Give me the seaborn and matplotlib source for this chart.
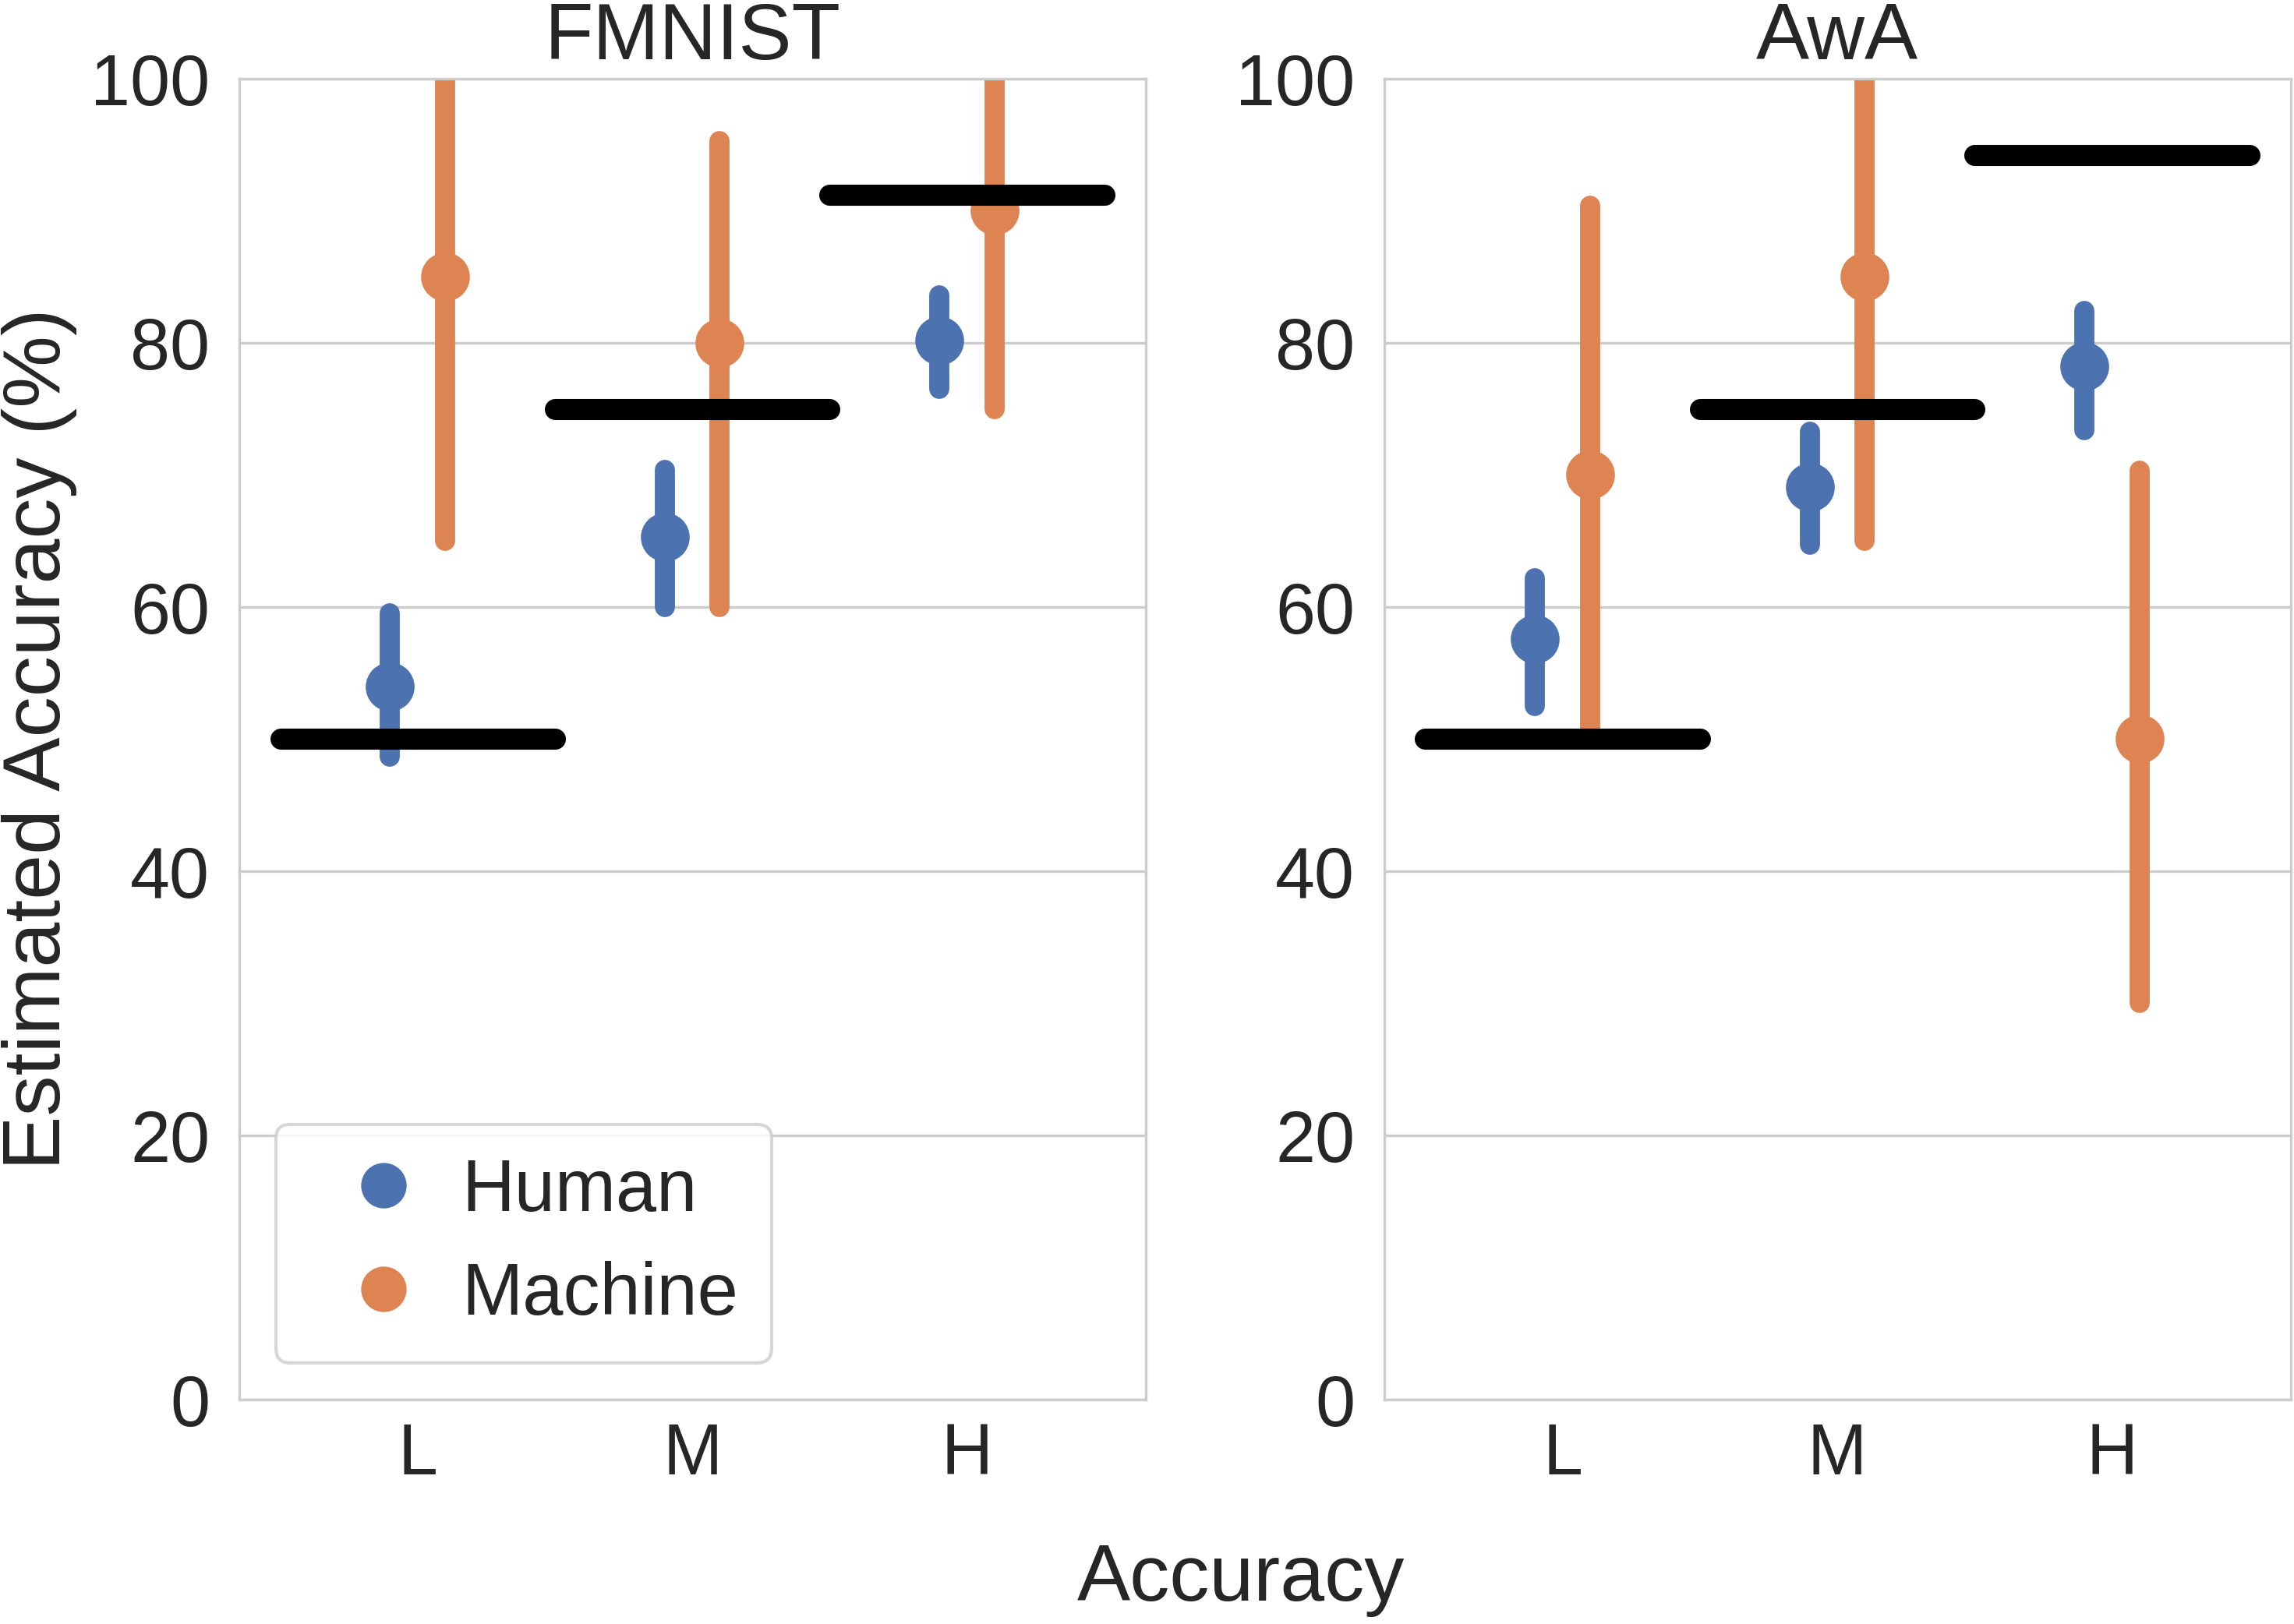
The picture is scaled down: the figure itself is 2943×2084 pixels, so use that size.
import numpy as np
import pandas as pd
import matplotlib
matplotlib.use("Agg")
import matplotlib.pyplot as plt
import seaborn as sns
from matplotlib.lines import Line2D

# ---------------- data ----------------
datasets = ["FMNIST", "AwA"]
levels = ["L", "M", "H"]
groups = ["Human", "Machine"]

fmnist_human_mean = [54.0, 65.3, 80.2]
fmnist_human_lo = [48.7, 60.0, 76.5]
fmnist_human_hi = [59.5, 70.4, 83.6]
fmnist_machine_mean = [85.0, 80.0, 90.0]
fmnist_machine_lo = [65.0, 60.0, 75.0]
fmnist_machine_hi = [105.0, 95.3, 105.0]

awa_human_mean = [57.6, 69.1, 78.2]
awa_human_lo = [52.5, 64.7, 73.4]
awa_human_hi = [62.2, 73.3, 82.4]
awa_machine_mean = [70.0, 85.0, 50.0]
awa_machine_lo = [50.0, 65.0, 30.0]
awa_machine_hi = [90.4, 105.0, 70.3]

fmnist_true = [50.0, 75.0, 91.2]
awa_true = [50.0, 75.0, 94.2]

summary = {
    "FMNIST": {
        "Human": (fmnist_human_lo, fmnist_human_mean, fmnist_human_hi),
        "Machine": (fmnist_machine_lo, fmnist_machine_mean, fmnist_machine_hi),
    },
    "AwA": {
        "Human": (awa_human_lo, awa_human_mean, awa_human_hi),
        "Machine": (awa_machine_lo, awa_machine_mean, awa_machine_hi),
    },
}
true_acc = {"FMNIST": fmnist_true, "AwA": awa_true}

rows = []
for ds in datasets:
    for g in groups:
        lo, mid, hi = summary[ds][g]
        for i, lev in enumerate(levels):
            for v in (lo[i], mid[i], hi[i]):
                rows.append({"dataset": ds, "group": g, "level": lev, "value": v})
df = pd.DataFrame(rows)

# ---------------- style ----------------
sns.set_theme(style="whitegrid")
plt.rcParams["font.family"] = ["Liberation Sans", "DejaVu Sans"]
plt.rcParams.update({
    "axes.edgecolor": ".8",
    "grid.color": ".8",
    "axes.linewidth": 0.8,
    "grid.linewidth": 0.8,
    "xtick.labelsize": 22,
    "ytick.labelsize": 22,
    "xtick.major.pad": 7,
    "ytick.major.pad": 9,
    "axes.titlesize": 24.5,
    "axes.labelsize": 25,
    "legend.fontsize": 22.5,
    "text.color": ".15",
    "xtick.color": ".15",
    "ytick.color": ".15",
    "axes.labelcolor": ".15",
})

palette = dict(zip(groups, sns.color_palette("deep")[:2]))

fig, axes = plt.subplots(1, 2, figsize=(9.81, 6.947), dpi=300)
fig.subplots_adjust(left=0.1042, right=0.9985, bottom=0.1382, top=0.9515, wspace=0.263)

for ax, ds in zip(axes, datasets):
    sns.pointplot(
        data=df[df["dataset"] == ds], x="level", y="value", hue="group",
        order=levels, hue_order=groups, palette=palette,
        estimator="median", errorbar=("pi", 100),
        dodge=0.2, linestyle="none", markers="o", markersize=13,
        err_kws={"linewidth": 6.2, "solid_capstyle": "round"},
        legend=False, ax=ax,
    )
    for i, v in enumerate(true_acc[ds]):
        ax.plot([i - 0.5, i + 0.5], [v, v], color="black", lw=6.5,
                solid_capstyle="round", zorder=10)
    ax.set_xlim(-0.65, 2.65)
    ax.set_ylim(0, 100)
    ax.set_yticks([0, 20, 40, 60, 80, 100])
    ax.set_title(ds)
    ax.set_xlabel("")
    ax.set_ylabel("")
    ax.grid(axis="x", visible=False)
    ax.tick_params(length=0)

axes[0].set_ylabel("Estimated Accuracy (%)")
fig.text(0.541, 0.027, "Accuracy", ha="center", va="center", fontsize=24.5, color=".15")

handles = [Line2D([], [], linestyle="none", marker="o", markersize=13,
                  color=palette[g], label=g) for g in groups]
axes[0].legend(handles=handles, loc="lower left", frameon=True,
               handlelength=2.05, handletextpad=0.05, labelspacing=0.47,
               borderpad=0.45, borderaxespad=0.5)

fig.savefig("out.png", dpi=300)
